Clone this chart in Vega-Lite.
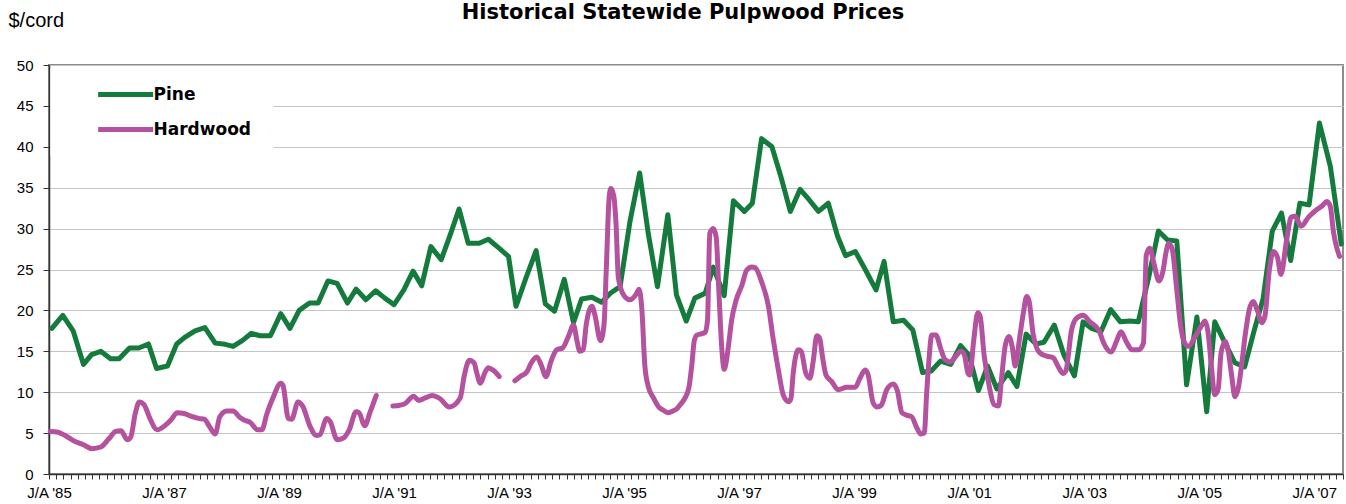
{
"$schema":"https://vega.github.io/schema/vega-lite/v6.json",
"width":1294,"height":409,
"autosize":{"type":"none"},
"padding":{"left":49,"top":65,"right":3,"bottom":30},
"background":"white",
"config":{"view":{"stroke":"#8C8C8C","strokeWidth":2}},
"title":{"text":"Historical Statewide Pulpwood Prices","font":"DejaVu Sans","fontSize":21,"fontWeight":"bold","color":"black","anchor":"middle","baseline":"alphabetic","offset":-30,"dx":-13},
"data":{"values":[
{"s":"Pine","g":0,"t":1985.55,"v":17.8},{"s":"Pine","g":0,"t":1985.74,"v":19.4},{"s":"Pine","g":0,"t":1985.92,"v":17.5},{"s":"Pine","g":0,"t":1986.10,"v":13.4},{"s":"Pine","g":0,"t":1986.24,"v":14.6},{"s":"Pine","g":0,"t":1986.40,"v":15.0},{"s":"Pine","g":0,"t":1986.57,"v":14.1},{"s":"Pine","g":0,"t":1986.72,"v":14.1},{"s":"Pine","g":0,"t":1986.90,"v":15.4},{"s":"Pine","g":0,"t":1987.06,"v":15.4},{"s":"Pine","g":0,"t":1987.23,"v":15.9},{"s":"Pine","g":0,"t":1987.37,"v":12.9},{"s":"Pine","g":0,"t":1987.56,"v":13.2},{"s":"Pine","g":0,"t":1987.72,"v":15.9},{"s":"Pine","g":0,"t":1987.86,"v":16.7},{"s":"Pine","g":0,"t":1988.04,"v":17.5},{"s":"Pine","g":0,"t":1988.21,"v":17.9},{"s":"Pine","g":0,"t":1988.39,"v":16.0},{"s":"Pine","g":0,"t":1988.53,"v":15.9},{"s":"Pine","g":0,"t":1988.70,"v":15.6},{"s":"Pine","g":0,"t":1988.86,"v":16.3},{"s":"Pine","g":0,"t":1989.02,"v":17.2},{"s":"Pine","g":0,"t":1989.17,"v":16.9},{"s":"Pine","g":0,"t":1989.35,"v":16.9},{"s":"Pine","g":0,"t":1989.53,"v":19.6},{"s":"Pine","g":0,"t":1989.69,"v":17.8},{"s":"Pine","g":0,"t":1989.85,"v":20.0},{"s":"Pine","g":0,"t":1990.03,"v":20.9},{"s":"Pine","g":0,"t":1990.18,"v":20.9},{"s":"Pine","g":0,"t":1990.35,"v":23.6},{"s":"Pine","g":0,"t":1990.51,"v":23.3},{"s":"Pine","g":0,"t":1990.69,"v":20.9},{"s":"Pine","g":0,"t":1990.84,"v":22.6},{"s":"Pine","g":0,"t":1991.01,"v":21.3},{"s":"Pine","g":0,"t":1991.18,"v":22.4},{"s":"Pine","g":0,"t":1991.34,"v":21.5},{"s":"Pine","g":0,"t":1991.50,"v":20.7},{"s":"Pine","g":0,"t":1991.67,"v":22.5},{"s":"Pine","g":0,"t":1991.83,"v":24.8},{"s":"Pine","g":0,"t":1991.98,"v":23.0},{"s":"Pine","g":0,"t":1992.14,"v":27.8},{"s":"Pine","g":0,"t":1992.32,"v":26.2},{"s":"Pine","g":0,"t":1992.47,"v":29.1},{"s":"Pine","g":0,"t":1992.63,"v":32.4},{"s":"Pine","g":0,"t":1992.79,"v":28.2},{"s":"Pine","g":0,"t":1992.98,"v":28.2},{"s":"Pine","g":0,"t":1993.14,"v":28.7},{"s":"Pine","g":0,"t":1993.31,"v":27.7},{"s":"Pine","g":0,"t":1993.49,"v":26.6},{"s":"Pine","g":0,"t":1993.62,"v":20.5},{"s":"Pine","g":0,"t":1993.79,"v":23.9},{"s":"Pine","g":0,"t":1993.97,"v":27.3},{"s":"Pine","g":0,"t":1994.13,"v":20.8},{"s":"Pine","g":0,"t":1994.29,"v":19.9},{"s":"Pine","g":0,"t":1994.46,"v":23.8},{"s":"Pine","g":0,"t":1994.62,"v":18.5},{"s":"Pine","g":0,"t":1994.76,"v":21.4},{"s":"Pine","g":0,"t":1994.94,"v":21.6},{"s":"Pine","g":0,"t":1995.11,"v":21.0},{"s":"Pine","g":0,"t":1995.26,"v":22.1},{"s":"Pine","g":0,"t":1995.43,"v":22.9},{"s":"Pine","g":0,"t":1995.60,"v":30.8},{"s":"Pine","g":0,"t":1995.77,"v":36.8},{"s":"Pine","g":0,"t":1995.92,"v":29.4},{"s":"Pine","g":0,"t":1996.08,"v":22.9},{"s":"Pine","g":0,"t":1996.26,"v":31.7},{"s":"Pine","g":0,"t":1996.41,"v":21.9},{"s":"Pine","g":0,"t":1996.58,"v":18.7},{"s":"Pine","g":0,"t":1996.73,"v":21.5},{"s":"Pine","g":0,"t":1996.91,"v":22.1},{"s":"Pine","g":0,"t":1997.05,"v":25.3},{"s":"Pine","g":0,"t":1997.24,"v":21.8},{"s":"Pine","g":0,"t":1997.40,"v":33.4},{"s":"Pine","g":0,"t":1997.59,"v":32.1},{"s":"Pine","g":0,"t":1997.73,"v":33.1},{"s":"Pine","g":0,"t":1997.89,"v":41.0},{"s":"Pine","g":0,"t":1998.07,"v":40.0},{"s":"Pine","g":0,"t":1998.22,"v":36.5},{"s":"Pine","g":0,"t":1998.39,"v":32.1},{"s":"Pine","g":0,"t":1998.56,"v":34.8},{"s":"Pine","g":0,"t":1998.72,"v":33.5},{"s":"Pine","g":0,"t":1998.88,"v":32.1},{"s":"Pine","g":0,"t":1999.05,"v":33.1},{"s":"Pine","g":0,"t":1999.21,"v":29.1},{"s":"Pine","g":0,"t":1999.35,"v":26.7},{"s":"Pine","g":0,"t":1999.52,"v":27.2},{"s":"Pine","g":0,"t":1999.70,"v":24.9},{"s":"Pine","g":0,"t":1999.88,"v":22.5},{"s":"Pine","g":0,"t":2000.02,"v":26.0},{"s":"Pine","g":0,"t":2000.18,"v":18.6},{"s":"Pine","g":0,"t":2000.36,"v":18.8},{"s":"Pine","g":0,"t":2000.52,"v":17.6},{"s":"Pine","g":0,"t":2000.69,"v":12.4},{"s":"Pine","g":0,"t":2000.84,"v":12.6},{"s":"Pine","g":0,"t":2001.00,"v":13.8},{"s":"Pine","g":0,"t":2001.18,"v":13.4},{"s":"Pine","g":0,"t":2001.35,"v":15.7},{"s":"Pine","g":0,"t":2001.50,"v":14.5},{"s":"Pine","g":0,"t":2001.66,"v":10.2},{"s":"Pine","g":0,"t":2001.82,"v":13.2},{"s":"Pine","g":0,"t":2001.98,"v":10.4},{"s":"Pine","g":0,"t":2002.18,"v":12.4},{"s":"Pine","g":0,"t":2002.33,"v":10.7},{"s":"Pine","g":0,"t":2002.49,"v":17.1},{"s":"Pine","g":0,"t":2002.66,"v":15.9},{"s":"Pine","g":0,"t":2002.80,"v":16.1},{"s":"Pine","g":0,"t":2002.98,"v":18.2},{"s":"Pine","g":0,"t":2003.15,"v":14.5},{"s":"Pine","g":0,"t":2003.33,"v":12.0},{"s":"Pine","g":0,"t":2003.48,"v":18.6},{"s":"Pine","g":0,"t":2003.63,"v":17.8},{"s":"Pine","g":0,"t":2003.79,"v":17.4},{"s":"Pine","g":0,"t":2003.96,"v":20.1},{"s":"Pine","g":0,"t":2004.13,"v":18.6},{"s":"Pine","g":0,"t":2004.29,"v":18.7},{"s":"Pine","g":0,"t":2004.44,"v":18.6},{"s":"Pine","g":0,"t":2004.62,"v":24.0},{"s":"Pine","g":0,"t":2004.79,"v":29.7},{"s":"Pine","g":0,"t":2004.95,"v":28.6},{"s":"Pine","g":0,"t":2005.11,"v":28.5},{"s":"Pine","g":0,"t":2005.28,"v":10.9},{"s":"Pine","g":0,"t":2005.46,"v":19.2},{"s":"Pine","g":0,"t":2005.63,"v":7.6},{"s":"Pine","g":0,"t":2005.77,"v":18.6},{"s":"Pine","g":0,"t":2005.95,"v":16.0},{"s":"Pine","g":0,"t":2006.12,"v":13.6},{"s":"Pine","g":0,"t":2006.29,"v":13.1},{"s":"Pine","g":0,"t":2006.45,"v":17.4},{"s":"Pine","g":0,"t":2006.61,"v":21.4},{"s":"Pine","g":0,"t":2006.77,"v":29.7},{"s":"Pine","g":0,"t":2006.93,"v":31.9},{"s":"Pine","g":0,"t":2007.09,"v":26.1},{"s":"Pine","g":0,"t":2007.25,"v":33.1},{"s":"Pine","g":0,"t":2007.41,"v":32.9},{"s":"Pine","g":0,"t":2007.59,"v":42.9},{"s":"Pine","g":0,"t":2007.78,"v":37.6},{"s":"Pine","g":0,"t":2007.97,"v":28.1},
{"s":"Hardwood","g":1,"t":1985.52,"v":5.2},{"s":"Hardwood","g":1,"t":1985.66,"v":5.1},{"s":"Hardwood","g":1,"t":1985.78,"v":4.7},{"s":"Hardwood","g":1,"t":1985.92,"v":4.1},{"s":"Hardwood","g":1,"t":1986.09,"v":3.6},{"s":"Hardwood","g":1,"t":1986.25,"v":3.1},{"s":"Hardwood","g":1,"t":1986.40,"v":3.3},{"s":"Hardwood","g":1,"t":1986.54,"v":4.3},{"s":"Hardwood","g":1,"t":1986.66,"v":5.2},{"s":"Hardwood","g":1,"t":1986.75,"v":5.3},{"s":"Hardwood","g":1,"t":1986.86,"v":4.2},{"s":"Hardwood","g":1,"t":1986.92,"v":4.5},{"s":"Hardwood","g":1,"t":1987.00,"v":7.4},{"s":"Hardwood","g":1,"t":1987.07,"v":8.8},{"s":"Hardwood","g":1,"t":1987.15,"v":8.5},{"s":"Hardwood","g":1,"t":1987.26,"v":6.7},{"s":"Hardwood","g":1,"t":1987.38,"v":5.4},{"s":"Hardwood","g":1,"t":1987.53,"v":6.0},{"s":"Hardwood","g":1,"t":1987.62,"v":6.6},{"s":"Hardwood","g":1,"t":1987.73,"v":7.5},{"s":"Hardwood","g":1,"t":1987.85,"v":7.4},{"s":"Hardwood","g":1,"t":1987.99,"v":7.0},{"s":"Hardwood","g":1,"t":1988.10,"v":6.8},{"s":"Hardwood","g":1,"t":1988.20,"v":6.7},{"s":"Hardwood","g":1,"t":1988.29,"v":5.8},{"s":"Hardwood","g":1,"t":1988.39,"v":4.9},{"s":"Hardwood","g":1,"t":1988.47,"v":7.0},{"s":"Hardwood","g":1,"t":1988.59,"v":7.7},{"s":"Hardwood","g":1,"t":1988.70,"v":7.7},{"s":"Hardwood","g":1,"t":1988.82,"v":6.9},{"s":"Hardwood","g":1,"t":1988.89,"v":6.6},{"s":"Hardwood","g":1,"t":1989.00,"v":6.3},{"s":"Hardwood","g":1,"t":1989.13,"v":5.4},{"s":"Hardwood","g":1,"t":1989.20,"v":5.4},{"s":"Hardwood","g":1,"t":1989.29,"v":7.4},{"s":"Hardwood","g":1,"t":1989.40,"v":9.4},{"s":"Hardwood","g":1,"t":1989.53,"v":11.1},{"s":"Hardwood","g":1,"t":1989.57,"v":10.8},{"s":"Hardwood","g":1,"t":1989.66,"v":6.8},{"s":"Hardwood","g":1,"t":1989.72,"v":6.7},{"s":"Hardwood","g":1,"t":1989.83,"v":8.8},{"s":"Hardwood","g":1,"t":1989.91,"v":8.3},{"s":"Hardwood","g":1,"t":1990.04,"v":5.8},{"s":"Hardwood","g":1,"t":1990.15,"v":4.7},{"s":"Hardwood","g":1,"t":1990.21,"v":4.8},{"s":"Hardwood","g":1,"t":1990.33,"v":6.8},{"s":"Hardwood","g":1,"t":1990.39,"v":6.4},{"s":"Hardwood","g":1,"t":1990.51,"v":4.2},{"s":"Hardwood","g":1,"t":1990.62,"v":4.4},{"s":"Hardwood","g":1,"t":1990.72,"v":5.4},{"s":"Hardwood","g":1,"t":1990.84,"v":7.6},{"s":"Hardwood","g":1,"t":1990.89,"v":7.5},{"s":"Hardwood","g":1,"t":1990.99,"v":5.9},{"s":"Hardwood","g":1,"t":1991.08,"v":7.5},{"s":"Hardwood","g":1,"t":1991.19,"v":9.6},
{"s":"Hardwood","g":2,"t":1991.48,"v":8.3},{"s":"Hardwood","g":2,"t":1991.60,"v":8.4},{"s":"Hardwood","g":2,"t":1991.69,"v":8.6},{"s":"Hardwood","g":2,"t":1991.84,"v":9.5},{"s":"Hardwood","g":2,"t":1991.93,"v":9.0},{"s":"Hardwood","g":2,"t":1992.04,"v":9.3},{"s":"Hardwood","g":2,"t":1992.16,"v":9.6},{"s":"Hardwood","g":2,"t":1992.30,"v":9.2},{"s":"Hardwood","g":2,"t":1992.46,"v":8.2},{"s":"Hardwood","g":2,"t":1992.65,"v":9.3},{"s":"Hardwood","g":2,"t":1992.72,"v":12.0},{"s":"Hardwood","g":2,"t":1992.81,"v":13.9},{"s":"Hardwood","g":2,"t":1992.89,"v":13.6},{"s":"Hardwood","g":2,"t":1992.94,"v":12.3},{"s":"Hardwood","g":2,"t":1993.00,"v":11.1},{"s":"Hardwood","g":2,"t":1993.08,"v":12.4},{"s":"Hardwood","g":2,"t":1993.14,"v":13.0},{"s":"Hardwood","g":2,"t":1993.22,"v":12.7},{"s":"Hardwood","g":2,"t":1993.33,"v":11.9},
{"s":"Hardwood","g":3,"t":1993.60,"v":11.4},{"s":"Hardwood","g":3,"t":1993.69,"v":11.9},{"s":"Hardwood","g":3,"t":1993.81,"v":12.5},{"s":"Hardwood","g":3,"t":1993.88,"v":13.5},{"s":"Hardwood","g":3,"t":1993.98,"v":14.3},{"s":"Hardwood","g":3,"t":1994.06,"v":13.3},{"s":"Hardwood","g":3,"t":1994.14,"v":11.9},{"s":"Hardwood","g":3,"t":1994.23,"v":13.8},{"s":"Hardwood","g":3,"t":1994.33,"v":15.2},{"s":"Hardwood","g":3,"t":1994.43,"v":15.4},{"s":"Hardwood","g":3,"t":1994.53,"v":16.8},{"s":"Hardwood","g":3,"t":1994.62,"v":18.2},{"s":"Hardwood","g":3,"t":1994.68,"v":16.3},{"s":"Hardwood","g":3,"t":1994.73,"v":15.0},{"s":"Hardwood","g":3,"t":1994.79,"v":15.2},{"s":"Hardwood","g":3,"t":1994.84,"v":18.2},{"s":"Hardwood","g":3,"t":1994.94,"v":20.5},{"s":"Hardwood","g":3,"t":1994.99,"v":19.5},{"s":"Hardwood","g":3,"t":1995.09,"v":16.3},{"s":"Hardwood","g":3,"t":1995.15,"v":18.2},{"s":"Hardwood","g":3,"t":1995.19,"v":25.0},{"s":"Hardwood","g":3,"t":1995.24,"v":33.8},{"s":"Hardwood","g":3,"t":1995.27,"v":34.9},{"s":"Hardwood","g":3,"t":1995.32,"v":34.0},{"s":"Hardwood","g":3,"t":1995.36,"v":30.5},{"s":"Hardwood","g":3,"t":1995.40,"v":24.0},{"s":"Hardwood","g":3,"t":1995.49,"v":21.9},{"s":"Hardwood","g":3,"t":1995.60,"v":21.3},{"s":"Hardwood","g":3,"t":1995.71,"v":22.0},{"s":"Hardwood","g":3,"t":1995.76,"v":22.6},{"s":"Hardwood","g":3,"t":1995.81,"v":20.0},{"s":"Hardwood","g":3,"t":1995.86,"v":13.3},{"s":"Hardwood","g":3,"t":1995.92,"v":10.7},{"s":"Hardwood","g":3,"t":1996.01,"v":9.3},{"s":"Hardwood","g":3,"t":1996.10,"v":8.2},{"s":"Hardwood","g":3,"t":1996.18,"v":7.8},{"s":"Hardwood","g":3,"t":1996.26,"v":7.5},{"s":"Hardwood","g":3,"t":1996.35,"v":7.7},{"s":"Hardwood","g":3,"t":1996.42,"v":8.0},{"s":"Hardwood","g":3,"t":1996.49,"v":8.6},{"s":"Hardwood","g":3,"t":1996.56,"v":9.3},{"s":"Hardwood","g":3,"t":1996.63,"v":10.7},{"s":"Hardwood","g":3,"t":1996.68,"v":13.5},{"s":"Hardwood","g":3,"t":1996.72,"v":16.3},{"s":"Hardwood","g":3,"t":1996.77,"v":17.0},{"s":"Hardwood","g":3,"t":1996.82,"v":17.1},{"s":"Hardwood","g":3,"t":1996.91,"v":17.3},{"s":"Hardwood","g":3,"t":1996.95,"v":18.8},{"s":"Hardwood","g":3,"t":1996.99,"v":29.4},{"s":"Hardwood","g":3,"t":1997.05,"v":30.0},{"s":"Hardwood","g":3,"t":1997.10,"v":29.0},{"s":"Hardwood","g":3,"t":1997.15,"v":22.0},{"s":"Hardwood","g":3,"t":1997.20,"v":15.2},{"s":"Hardwood","g":3,"t":1997.24,"v":12.8},{"s":"Hardwood","g":3,"t":1997.28,"v":13.9},{"s":"Hardwood","g":3,"t":1997.32,"v":16.0},{"s":"Hardwood","g":3,"t":1997.37,"v":18.8},{"s":"Hardwood","g":3,"t":1997.45,"v":21.3},{"s":"Hardwood","g":3,"t":1997.55,"v":23.1},{"s":"Hardwood","g":3,"t":1997.63,"v":24.9},{"s":"Hardwood","g":3,"t":1997.72,"v":25.3},{"s":"Hardwood","g":3,"t":1997.78,"v":25.2},{"s":"Hardwood","g":3,"t":1997.89,"v":23.5},{"s":"Hardwood","g":3,"t":1998.01,"v":20.5},{"s":"Hardwood","g":3,"t":1998.09,"v":16.6},{"s":"Hardwood","g":3,"t":1998.18,"v":12.8},{"s":"Hardwood","g":3,"t":1998.27,"v":9.6},{"s":"Hardwood","g":3,"t":1998.36,"v":8.85},{"s":"Hardwood","g":3,"t":1998.40,"v":9.2},{"s":"Hardwood","g":3,"t":1998.44,"v":12.3},{"s":"Hardwood","g":3,"t":1998.53,"v":15.2},{"s":"Hardwood","g":3,"t":1998.58,"v":15.0},{"s":"Hardwood","g":3,"t":1998.66,"v":12.3},{"s":"Hardwood","g":3,"t":1998.73,"v":11.7},{"s":"Hardwood","g":3,"t":1998.79,"v":13.9},{"s":"Hardwood","g":3,"t":1998.85,"v":16.9},{"s":"Hardwood","g":3,"t":1998.90,"v":16.6},{"s":"Hardwood","g":3,"t":1998.95,"v":14.3},{"s":"Hardwood","g":3,"t":1999.01,"v":12.1},{"s":"Hardwood","g":3,"t":1999.11,"v":11.3},{"s":"Hardwood","g":3,"t":1999.22,"v":10.3},{"s":"Hardwood","g":3,"t":1999.37,"v":10.6},{"s":"Hardwood","g":3,"t":1999.52,"v":10.6},{"s":"Hardwood","g":3,"t":1999.60,"v":11.7},{"s":"Hardwood","g":3,"t":1999.69,"v":12.7},{"s":"Hardwood","g":3,"t":1999.74,"v":12.2},{"s":"Hardwood","g":3,"t":1999.83,"v":8.7},{"s":"Hardwood","g":3,"t":1999.90,"v":8.2},{"s":"Hardwood","g":3,"t":1999.97,"v":8.4},{"s":"Hardwood","g":3,"t":2000.07,"v":10.35},{"s":"Hardwood","g":3,"t":2000.18,"v":11.0},{"s":"Hardwood","g":3,"t":2000.25,"v":10.2},{"s":"Hardwood","g":3,"t":2000.33,"v":7.5},{"s":"Hardwood","g":3,"t":2000.41,"v":7.2},{"s":"Hardwood","g":3,"t":2000.50,"v":7.0},{"s":"Hardwood","g":3,"t":2000.58,"v":5.8},{"s":"Hardwood","g":3,"t":2000.66,"v":4.9},{"s":"Hardwood","g":3,"t":2000.72,"v":5.0},{"s":"Hardwood","g":3,"t":2000.76,"v":9.8},{"s":"Hardwood","g":3,"t":2000.80,"v":13.9},{"s":"Hardwood","g":3,"t":2000.85,"v":17.0},{"s":"Hardwood","g":3,"t":2000.92,"v":17.0},{"s":"Hardwood","g":3,"t":2001.01,"v":15.2},{"s":"Hardwood","g":3,"t":2001.08,"v":14.0},{"s":"Hardwood","g":3,"t":2001.17,"v":13.7},{"s":"Hardwood","g":3,"t":2001.28,"v":14.5},{"s":"Hardwood","g":3,"t":2001.35,"v":15.0},{"s":"Hardwood","g":3,"t":2001.41,"v":14.7},{"s":"Hardwood","g":3,"t":2001.48,"v":12.3},{"s":"Hardwood","g":3,"t":2001.51,"v":12.1},{"s":"Hardwood","g":3,"t":2001.58,"v":16.4},{"s":"Hardwood","g":3,"t":2001.65,"v":19.7},{"s":"Hardwood","g":3,"t":2001.69,"v":19.3},{"s":"Hardwood","g":3,"t":2001.76,"v":14.5},{"s":"Hardwood","g":3,"t":2001.85,"v":10.7},{"s":"Hardwood","g":3,"t":2001.93,"v":8.5},{"s":"Hardwood","g":3,"t":2002.01,"v":8.3},{"s":"Hardwood","g":3,"t":2002.06,"v":11.5},{"s":"Hardwood","g":3,"t":2002.13,"v":15.8},{"s":"Hardwood","g":3,"t":2002.19,"v":16.8},{"s":"Hardwood","g":3,"t":2002.25,"v":15.5},{"s":"Hardwood","g":3,"t":2002.30,"v":13.2},{"s":"Hardwood","g":3,"t":2002.38,"v":16.8},{"s":"Hardwood","g":3,"t":2002.44,"v":19.6},{"s":"Hardwood","g":3,"t":2002.50,"v":21.7},{"s":"Hardwood","g":3,"t":2002.54,"v":21.2},{"s":"Hardwood","g":3,"t":2002.61,"v":17.2},{"s":"Hardwood","g":3,"t":2002.67,"v":15.5},{"s":"Hardwood","g":3,"t":2002.73,"v":14.8},{"s":"Hardwood","g":3,"t":2002.85,"v":14.4},{"s":"Hardwood","g":3,"t":2002.96,"v":14.2},{"s":"Hardwood","g":3,"t":2003.05,"v":13.1},{"s":"Hardwood","g":3,"t":2003.13,"v":12.3},{"s":"Hardwood","g":3,"t":2003.18,"v":12.6},{"s":"Hardwood","g":3,"t":2003.28,"v":17.6},{"s":"Hardwood","g":3,"t":2003.36,"v":19.0},{"s":"Hardwood","g":3,"t":2003.48,"v":19.4},{"s":"Hardwood","g":3,"t":2003.60,"v":18.6},{"s":"Hardwood","g":3,"t":2003.76,"v":17.5},{"s":"Hardwood","g":3,"t":2003.84,"v":16.0},{"s":"Hardwood","g":3,"t":2003.97,"v":14.9},{"s":"Hardwood","g":3,"t":2004.06,"v":16.2},{"s":"Hardwood","g":3,"t":2004.14,"v":17.4},{"s":"Hardwood","g":3,"t":2004.23,"v":16.2},{"s":"Hardwood","g":3,"t":2004.33,"v":15.2},{"s":"Hardwood","g":3,"t":2004.45,"v":15.2},{"s":"Hardwood","g":3,"t":2004.53,"v":16.0},{"s":"Hardwood","g":3,"t":2004.58,"v":26.8},{"s":"Hardwood","g":3,"t":2004.64,"v":27.6},{"s":"Hardwood","g":3,"t":2004.71,"v":25.8},{"s":"Hardwood","g":3,"t":2004.80,"v":23.6},{"s":"Hardwood","g":3,"t":2004.87,"v":24.8},{"s":"Hardwood","g":3,"t":2004.92,"v":27.0},{"s":"Hardwood","g":3,"t":2004.97,"v":28.2},{"s":"Hardwood","g":3,"t":2005.03,"v":27.5},{"s":"Hardwood","g":3,"t":2005.11,"v":22.5},{"s":"Hardwood","g":3,"t":2005.17,"v":18.5},{"s":"Hardwood","g":3,"t":2005.23,"v":16.3},{"s":"Hardwood","g":3,"t":2005.31,"v":15.6},{"s":"Hardwood","g":3,"t":2005.43,"v":16.8},{"s":"Hardwood","g":3,"t":2005.53,"v":18.0},{"s":"Hardwood","g":3,"t":2005.60,"v":18.7},{"s":"Hardwood","g":3,"t":2005.65,"v":17.5},{"s":"Hardwood","g":3,"t":2005.71,"v":13.3},{"s":"Hardwood","g":3,"t":2005.77,"v":9.7},{"s":"Hardwood","g":3,"t":2005.83,"v":10.4},{"s":"Hardwood","g":3,"t":2005.88,"v":14.8},{"s":"Hardwood","g":3,"t":2005.95,"v":16.2},{"s":"Hardwood","g":3,"t":2006.00,"v":15.2},{"s":"Hardwood","g":3,"t":2006.07,"v":11.7},{"s":"Hardwood","g":3,"t":2006.12,"v":9.45},{"s":"Hardwood","g":3,"t":2006.18,"v":10.5},{"s":"Hardwood","g":3,"t":2006.24,"v":13.5},{"s":"Hardwood","g":3,"t":2006.30,"v":17.0},{"s":"Hardwood","g":3,"t":2006.37,"v":20.1},{"s":"Hardwood","g":3,"t":2006.44,"v":21.1},{"s":"Hardwood","g":3,"t":2006.51,"v":20.0},{"s":"Hardwood","g":3,"t":2006.59,"v":18.5},{"s":"Hardwood","g":3,"t":2006.64,"v":19.2},{"s":"Hardwood","g":3,"t":2006.72,"v":25.0},{"s":"Hardwood","g":3,"t":2006.79,"v":27.2},{"s":"Hardwood","g":3,"t":2006.86,"v":26.5},{"s":"Hardwood","g":3,"t":2006.92,"v":24.4},{"s":"Hardwood","g":3,"t":2007.02,"v":28.6},{"s":"Hardwood","g":3,"t":2007.10,"v":31.4},{"s":"Hardwood","g":3,"t":2007.17,"v":31.5},{"s":"Hardwood","g":3,"t":2007.27,"v":30.3},{"s":"Hardwood","g":3,"t":2007.40,"v":31.4},{"s":"Hardwood","g":3,"t":2007.54,"v":32.3},{"s":"Hardwood","g":3,"t":2007.64,"v":32.8},{"s":"Hardwood","g":3,"t":2007.72,"v":33.3},{"s":"Hardwood","g":3,"t":2007.78,"v":32.7},{"s":"Hardwood","g":3,"t":2007.83,"v":29.8},{"s":"Hardwood","g":3,"t":2007.94,"v":26.6}
]},
"encoding":{
"x":{"field":"t","type":"quantitative","scale":{"domain":[1985.5,2008.0],"nice":false,"zero":false},
 "axis":{"title":null,"grid":false,"values":[1985.5,1985.625,1985.75,1985.875,1986,1986.125,1986.25,1986.375,1986.5,1986.625,1986.75,1986.875,1987,1987.125,1987.25,1987.375,1987.5,1987.625,1987.75,1987.875,1988,1988.125,1988.25,1988.375,1988.5,1988.625,1988.75,1988.875,1989,1989.125,1989.25,1989.375,1989.5,1989.625,1989.75,1989.875,1990,1990.125,1990.25,1990.375,1990.5,1990.625,1990.75,1990.875,1991,1991.125,1991.25,1991.375,1991.5,1991.625,1991.75,1991.875,1992,1992.125,1992.25,1992.375,1992.5,1992.625,1992.75,1992.875,1993,1993.125,1993.25,1993.375,1993.5,1993.625,1993.75,1993.875,1994,1994.125,1994.25,1994.375,1994.5,1994.625,1994.75,1994.875,1995,1995.125,1995.25,1995.375,1995.5,1995.625,1995.75,1995.875,1996,1996.125,1996.25,1996.375,1996.5,1996.625,1996.75,1996.875,1997,1997.125,1997.25,1997.375,1997.5,1997.625,1997.75,1997.875,1998,1998.125,1998.25,1998.375,1998.5,1998.625,1998.75,1998.875,1999,1999.125,1999.25,1999.375,1999.5,1999.625,1999.75,1999.875,2000,2000.125,2000.25,2000.375,2000.5,2000.625,2000.75,2000.875,2001,2001.125,2001.25,2001.375,2001.5,2001.625,2001.75,2001.875,2002,2002.125,2002.25,2002.375,2002.5,2002.625,2002.75,2002.875,2003,2003.125,2003.25,2003.375,2003.5,2003.625,2003.75,2003.875,2004,2004.125,2004.25,2004.375,2004.5,2004.625,2004.75,2004.875,2005,2005.125,2005.25,2005.375,2005.5,2005.625,2005.75,2005.875,2006,2006.125,2006.25,2006.375,2006.5,2006.625,2006.75,2006.875,2007,2007.125,2007.25,2007.375,2007.5,2007.625,2007.75,2007.875,2008],
 "labelExpr":"abs((datum.value - 1985.5) % 2) < 0.01 ? \"J/A '\" + format(floor(datum.value) % 100, '02d') : ''",
 "labelOverlap":false,"labelFlush":false,"labelBound":false,
 "labelFont":"Liberation Sans","labelFontSize":15,"labelColor":"black","labelPadding":6,
 "tickSize":5,"tickColor":"#333333","domainColor":"#333333","domainWidth":1.5}},
"y":{"field":"v","type":"quantitative","scale":{"domain":[0,50],"nice":false},
 "axis":{"title":"$/cord","titleAngle":0,"titleAlign":"left","titleBaseline":"alphabetic","titleX":-41,"titleY":-39,"titleFont":"Liberation Sans","titleFontSize":20,"titleFontWeight":"normal","titleColor":"black",
 "values":[0,5,10,15,20,25,30,35,40,45,50],"labelFont":"Liberation Sans","labelFontSize":15,"labelColor":"black","labelPadding":10,
 "tickSize":6,"tickColor":"#333333","domainColor":"#333333","domainWidth":1.5,"gridColor":"#C4C4C4","gridWidth":1}},
"color":{"field":"s","type":"nominal","scale":{"domain":["Pine","Hardwood"],"range":["#157B3D","#B5529F"]},
 "legend":{"orient":"none","legendX":1.5,"legendY":4,"title":"\u00a0\u00a0\u00a0\u00a0\u00a0\u00a0\u00a0\u00a0\u00a0\u00a0\u00a0\u00a0","titleOrient":"right","titleFont":"Liberation Sans","titleFontSize":16,"titlePadding":7,"padding":16,"fillColor":"white","symbolType":"M-1,0H7","symbolSize":189,"symbolOffset":29,"symbolStrokeWidth":5,"labelFont":"DejaVu Sans","labelFontSize":17,"labelFontWeight":"bold","labelColor":"black","labelOffset":39,"rowPadding":14}}
},
"layer":[
{"transform":[{"filter":"datum.s == 'Pine'"}],"mark":{"type":"line","strokeWidth":5,"strokeJoin":"round","strokeCap":"round"},"encoding":{"detail":{"field":"g"}}},
{"transform":[{"filter":"datum.s == 'Hardwood'"}],"mark":{"type":"line","strokeWidth":5,"strokeJoin":"round","strokeCap":"round","interpolate":"monotone"},"encoding":{"detail":{"field":"g"}}}
]
}
